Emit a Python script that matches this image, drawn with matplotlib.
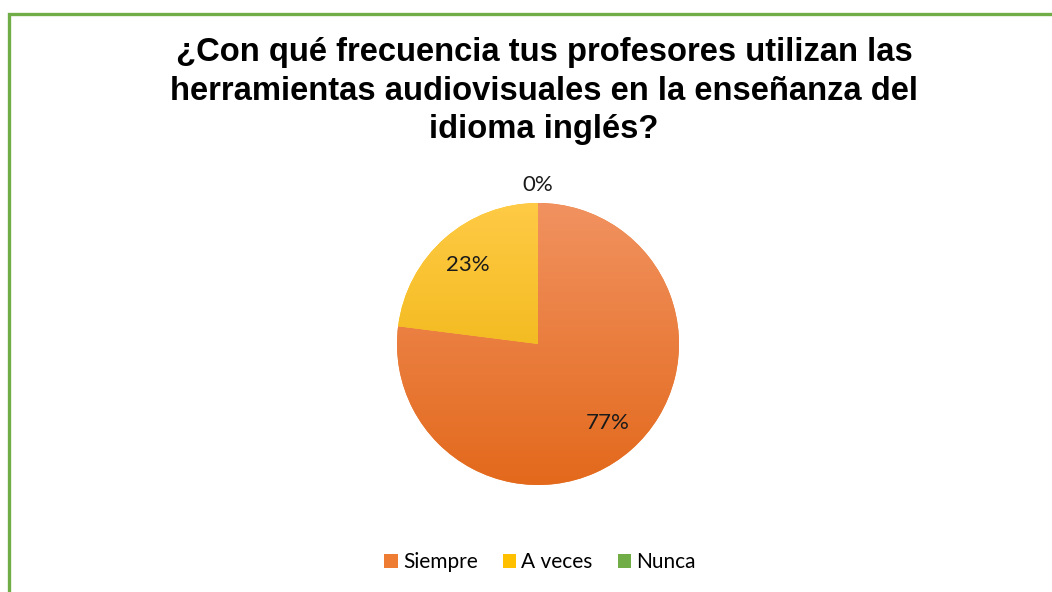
import numpy as np
import matplotlib
matplotlib.use("Agg")
import matplotlib.pyplot as plt
from matplotlib.patches import Rectangle
from matplotlib.colors import LinearSegmentedColormap

titulo = "¿Con qué frecuencia tus profesores utilizan las\nherramientas audiovisuales en la enseñanza del\nidioma inglés?"
categorias = ["Siempre", "A veces", "Nunca"]
porcentajes = [77, 23, 0]
colores = ["#EE7D33", "#FFC000", "#70AD47"]
degradados = [("#F19260", "#E3691C"), ("#FFCA45", "#E8AE00"), ("#8CC168", "#5E9A37")]

W, H = 1052, 592
fig = plt.figure(figsize=(W / 100, H / 100), dpi=100)

# green frame (runs off the right and bottom edges)
fig.patches.append(Rectangle((9 / W, -0.1), 1.2, 1 - 14 / H + 0.1, transform=fig.transFigure,
                             fill=False, edgecolor="#70AD47", linewidth=2.4))

fig.text(544 / W, 1 - 91 / H, titulo, ha="center", va="center", fontsize=23.6,
         fontweight="bold", family="Liberation Sans", linespacing=1.32)

# pie axes: centre (538, 344), radius 141 px
cx, cy, r = 538, 344, 141
lim = 1.2
side = 2 * lim * r
ax = fig.add_axes([(cx - side / 2) / W, (H - cy - side / 2) / H, side / W, side / H])
wedges, _, autotexts = ax.pie(porcentajes, colors=colores, startangle=90, counterclock=False,
                              autopct="%1.0f%%", pctdistance=0.75, radius=1,
                              textprops=dict(fontsize=16, family="Lato", color="#1a1a1a"))
ax.set_xlim(-lim, lim)
ax.set_ylim(-lim, lim)
ax.set_aspect("equal")
ax.axis("off")

# vertical gradient in each slice
grad = np.linspace(0, 1, 256).reshape(-1, 1)
for w, (top, bot) in zip(wedges, degradados):
    cmap = LinearSegmentedColormap.from_list("g", [top, bot])
    im = ax.imshow(grad, cmap=cmap, extent=(-1, 1, -1, 1), origin="upper", aspect="auto", zorder=1)
    im.set_clip_path(w)
    w.set_zorder(0)
for t in autotexts:
    t.set_zorder(3)

# 0% label sits outside at the top
ang = np.deg2rad(90 - 360 * sum(porcentajes[:-1]) / sum(porcentajes))
autotexts[-1].set_position((1.13 * np.cos(ang), 1.13 * np.sin(ang)))

handles = [Rectangle((0, 0), 1, 1, facecolor=c) for c in colores]
fig.legend(handles, categorias, loc="center", bbox_to_anchor=(540 / W, 1 - 562 / H), ncol=3,
           frameon=False, handlelength=0.65, handleheight=0.65, handletextpad=0.25,
           columnspacing=1.2, prop=dict(family="Lato", size=15))

fig.savefig("out.png", dpi=100)
